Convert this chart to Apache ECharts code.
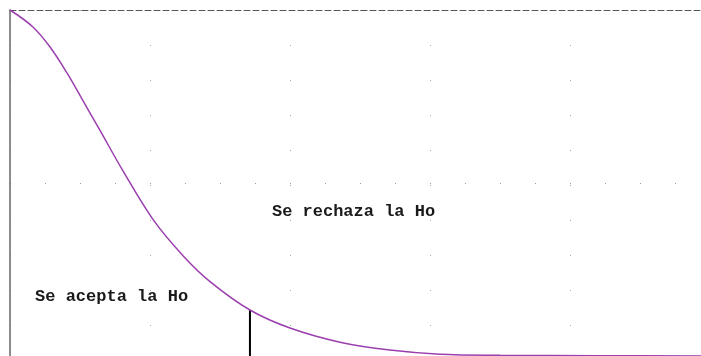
<!DOCTYPE html>
<html>
<head>
    <meta charset="utf-8">
    <title>Se acepta / se rechaza la Ho</title>
    <script src="https://cdn.jsdelivr.net/npm/echarts@6/dist/echarts.min.js"></script>
    <style type="text/css">
        * { margin: 0; padding: 0; }
        #main { width: 701px; height: 356px; background: #fff; }
    </style>
</head>
<body>
<div id="main"></div>
<script type="text/javascript">
    // curva (x en unidades de rejilla, y de 0 a 1)
    var curveX = [0, 0.164, 0.286, 0.407, 0.521, 0.643, 0.807, 1.021, 1.236, 1.429, 1.714, 2.0, 2.357, 2.714, 3.071, 3.5, 4.2, 4.936];
    var curveY = [1.0, 0.951, 0.893, 0.818, 0.738, 0.652, 0.535, 0.395, 0.29, 0.215, 0.133, 0.081, 0.04, 0.017, 0.005, 0.002, 0.001, 0.0];

    // valor critico
    var critX = 1.714;
    var critY = 0.133;

    // textos
    var labelText = ['Se rechaza la Ho', 'Se acepta la Ho'];
    var labelX = [1.871, 0.179];
    var labelY = [0.416, 0.17];

    var myChart = echarts.init(document.getElementById('main'));

    var curveData = [];
    for (var i = 0; i < curveX.length; i++) {
        curveData.push([curveX[i], curveY[i]]);
    }
    var labelPoints = [];
    for (var j = 0; j < labelText.length; j++) {
        labelPoints.push({
            coord: [labelX[j], labelY[j]],
            value: labelText[j],
            symbolSize: 0,
            label: {
                show: true,
                formatter: labelText[j],
                position: 'right',
                distance: 0,
                color: '#1a1a1a',
                fontFamily: 'Liberation Mono',
                fontWeight: 'bold',
                fontSize: 17
            }
        });
    }

    var option = {
        animation: false,
        grid: { left: 10, top: 10, right: 0, bottom: 0 },
        xAxis: {
            type: 'value',
            position: 'top',
            min: 0,
            max: 4.936,
            interval: 1,
            axisLine: { show: true, onZero: false, lineStyle: { color: '#555', type: [6, 3], width: 1 } },
            axisTick: { show: false },
            axisLabel: { show: false },
            splitLine: { show: true, lineStyle: { color: '#aaa', type: [1, 34], width: 1 } }
        },
        yAxis: {
            type: 'value',
            min: 0,
            max: 1,
            interval: 0.5,
            axisLine: { show: true, onZero: false, lineStyle: { color: '#666', width: 1.5 } },
            axisTick: { show: false },
            axisLabel: { show: false },
            splitLine: { show: true, lineStyle: { color: '#999', type: [1, 34], width: 1 } }
        },
        series: [
            {
                type: 'line',
                smooth: 0.35,
                symbol: 'none',
                data: curveData,
                lineStyle: { color: '#9b3fae', width: 1.5 },
                z: 3,
                markPoint: { symbol: 'circle', data: labelPoints }
            },
            {
                type: 'line',
                symbol: 'none',
                data: [[critX, 0], [critX, critY]],
                lineStyle: { color: '#000', width: 2 },
                z: 2
            }
        ]
    };
    myChart.setOption(option);
</script>
</body>
</html>
